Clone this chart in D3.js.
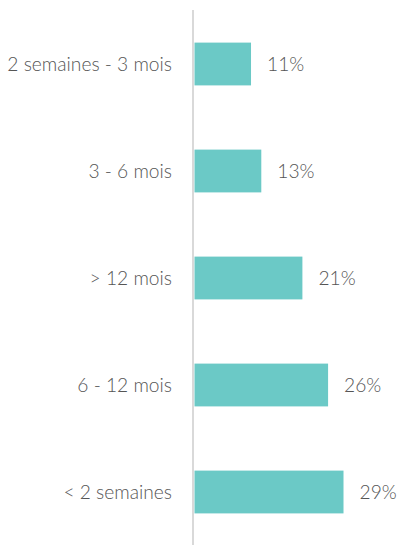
<!DOCTYPE html>
<html><head><meta charset="utf-8">
<script src="https://cdn.jsdelivr.net/npm/d3@7"></script>
<style>body{margin:0;background:#fff}</style>
</head><body><svg id="c" width="398" height="545"></svg>
<script>
const categories = ["2 semaines - 3 mois","3 - 6 mois","> 12 mois","6 - 12 mois","< 2 semaines"];
const values = [11,13,21,26,29];
const valueLabels = ["11%","13%","21%","26%","29%"];

const svg = d3.select("#c");
const x0 = 194.5;
const x = d3.scaleLinear().domain([0,29]).range([x0, x0+149]);
const y = d3.scaleBand().domain(categories).range([10.5,545.5]).paddingInner(0.6).paddingOuter(0.3);

svg.selectAll("rect.bar").data(values).join("rect")
  .attr("class","bar")
  .attr("x", x(0))
  .attr("y",(d,i)=>y(categories[i]))
  .attr("width", d=>x(d)-x(0))
  .attr("height", y.bandwidth())
  .attr("fill","#6bc9c6");

svg.append("line").attr("x1",193).attr("x2",193).attr("y1",10).attr("y2",545)
  .attr("stroke","#d9d9d9").attr("stroke-width",2);

const font = "Lato, 'Open Sans', sans-serif";
svg.selectAll("text.cat").data(categories).join("text")
  .attr("class","cat")
  .attr("x",172)
  .attr("y",d=>y(d)+y.bandwidth()/2)
  .attr("dy","0.35em")
  .attr("text-anchor","end")
  .attr("font-family",font).attr("font-weight",300).attr("font-size",19.2)
  .attr("fill","#555")
  .text(d=>d);

svg.selectAll("text.val").data(values).join("text")
  .attr("class","val")
  .attr("x",d=>x(d)+16)
  .attr("y",(d,i)=>y(categories[i])+y.bandwidth()/2)
  .attr("dy","0.35em")
  .attr("font-family",font).attr("font-weight",300).attr("font-size",19.2)
  .attr("fill","#555")
  .text((d,i)=>valueLabels[i]);
</script></body></html>
